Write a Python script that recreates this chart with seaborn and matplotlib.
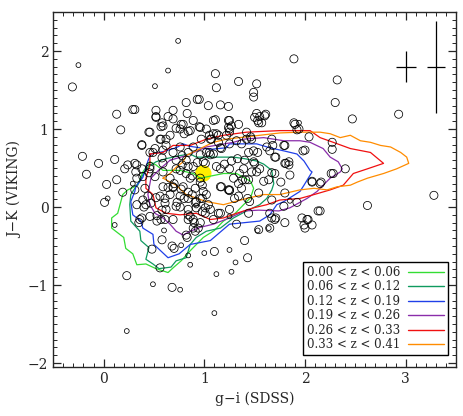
import numpy as np
import pandas as pd
import matplotlib
matplotlib.use("Agg")
import matplotlib.pyplot as plt
from matplotlib.lines import Line2D
from matplotlib.ticker import MultipleLocator
import seaborn as sns

# galaxies (g-i, J-K), big symbols
big_gi = [-0.31, 1.89, 2.32, 2.30, 2.47, 2.93, 3.28, 2.62, 1.11, 1.12, 1.34, 1.52, 1.49, 1.49,
          0.93, 0.95, 0.82, 1.04, 1.16, 1.24, 0.13, 0.17, 0.29, 0.31, 0.52, 0.52, 0.64, 0.69,
          0.83, 0.58, 0.57, 0.72, 0.77, 0.95, 1.11, 1.25, 1.27, 1.24, 1.52, 1.55, 1.53, 1.61,
          1.57, 1.89, 1.92, 0.45, 0.56, 0.62, 0.80, 0.84, 1.02, 1.05, 1.09, 1.07, 1.14, 1.22,
          1.25, 0.38, 0.62, -0.21, -0.05, -0.17, 0.11, 0.13, 0.03, 0.01, 0.19, 0.21, 0.24,
          0.33, 0.32, 0.46, 0.49, 0.23, 0.68, 1.10, 1.40, 1.43, 0.58, 0.48, 0.56, 0.68, 0.70,
          1.99, 2.07, 2.02, 2.15, 2.07, 2.16, 1.98, 2.04, 1.79, 1.81, 1.84, 1.76, 1.67, 2.27,
          2.27, 2.26, 2.28, 2.40, 1.68, 1.65, 1.71, 1.71, 1.67, 1.42, 1.46, 1.49, 1.53, 1.49,
          1.52, 1.55, 1.59, 1.41, 1.29, 1.24, 1.25, 1.17, 1.30, 1.43, 1.14, 0.98, 1.01, 1.04,
          0.91, 0.96, 0.98, 0.94, 0.91, 0.82, 0.83, 0.86, 0.84, 0.80, 0.76, 0.73, 0.61, 0.61,
          0.58, 0.53, 0.53, 0.61, 0.38, 0.33, 0.42, 0.44, 0.52, 0.46, 0.45, 0.58, 0.69, 0.78,
          0.84, 0.96, 0.93, 0.99, 0.72, 0.78, 0.84, 0.66, 0.69, 0.77, 0.84, 0.88, 0.96, 0.98,
          1.05, 1.06, 1.14, 1.16, 1.27, 1.35, 1.38, 1.16, 1.92, 1.79, 1.37, 0.35, 0.40, 0.70,
          0.88, 1.20, 1.33, 0.64, 0.90]
big_jk = [1.54, 1.90, 1.63, 1.34, 1.13, 1.19, 0.15, 0.02, 1.71, 1.53, 1.61, 1.58, 1.47, 1.41,
          1.38, 1.38, 1.34, 1.30, 1.31, 1.29, 1.19, 0.99, 1.25, 1.25, 1.24, 1.16, 1.16, 1.24,
          1.20, 1.08, 1.03, 1.01, 1.06, 1.03, 1.12, 1.11, 1.04, 1.02, 1.20, 1.16, 1.11, 1.19,
          1.08, 1.08, 0.99, 0.96, 0.87, 0.87, 0.94, 0.97, 1.00, 0.92, 0.94, 0.87, 0.92, 0.92,
          0.96, 0.80, 0.79, 0.65, 0.56, 0.42, 0.61, 0.35, 0.29, 0.06, 0.19, 0.49, 0.54,
          0.54, 0.45, 0.70, 0.70, -0.88, -1.03, -0.57, -0.43, -0.65, -0.42, -0.54, -0.78, -0.50, -0.53,
          -0.23, -0.23, -0.16, -0.05, 0.32, 0.32, 0.72, 0.90, 0.79, 0.56, 0.58, 0.32, 0.44, 0.83,
          0.74, 0.43, 0.43, 0.49, 0.79, 0.72, 0.64, -0.14, -0.14, 0.87, 0.90, 0.72, 0.70, 0.58,
          0.45, 0.49, 0.33, 0.35, 0.37, 0.22, 0.21, 0.26, 0.11, 0.11, -0.08, -0.06, -0.01, 0.03,
          0.06, 0.11, 0.11, -0.27, -0.31, -0.36, -0.39, -0.12, -0.16, 0.11, 0.00, 0.06, 0.11, 0.05,
          -0.04, -0.18, -0.11, -0.16, -0.14, 0.03, 0.03, 0.14, 0.12, 0.49, 0.44, 0.63, 0.70, 0.66,
          0.70, 0.67, 0.57, 0.58, 0.49, 0.54, 0.52, 0.37, 0.25, 0.23, 0.19, 0.16, 0.32, 0.28,
          0.70, 0.67, 0.83, 0.76, 0.59, 0.43, 0.35, 0.49, 0.06, 0.01, 0.24, -0.20, 0.00, 0.30,
          0.40, 0.55, 0.62, 0.25, -0.20]

# crowded core of the distribution, big symbols
core_gi = [0.52, 0.59, 0.69, 0.79, 0.89, 0.96, 1.09, 1.24, 1.25, 1.12, 1.06, 0.97, 0.86, 0.76,
           0.66, 0.57, 0.46, 0.38, 0.51, 0.59, 0.76, 0.89, 1.02, 1.09, 1.17, 1.25, 1.32, 0.31,
           0.38, 0.46, 0.59, 0.72, 0.82, 0.89, 1.01, 1.12, 1.25, 0.33, 0.39, 0.51, 0.59, 0.76,
           0.82, 0.86, 0.96, 0.31, 0.41, 0.59, 0.69, 0.79, 0.91, 0.99, 1.16, 1.25, 0.39, 0.47,
           0.56, 0.66, 0.76, 0.84, 0.92, 1.02, 0.62, 0.72, 0.84, 0.92, 1.06, 1.16, 0.36, 0.46,
           0.57, 0.69, 0.84, 0.89, 1.01, 1.09, 0.89, 0.96, 1.25, 1.32,
           1.34, 1.50, 1.60, 1.54, 1.90, 1.94, 1.42, 1.47, 1.37, 1.67, 1.80, 2.00, 1.62, 1.70,
           1.44, 1.40, 1.50, 1.80, 1.84, 1.70, 1.64, 1.85, 2.07, 2.15, 1.39, 1.47, 1.34, 1.44,
           1.54, 1.80, 1.34, 1.45, 1.67, 1.44, 1.65, 1.70, 1.97, 2.03, 2.00, 2.13, 1.54, 1.65,
           1.80]
core_jk = [1.15, 1.04, 1.13, 1.06, 1.11, 1.02, 1.11, 1.11, 1.00, 0.94, 0.87, 0.87, 0.98, 1.00,
           0.92, 0.87, 0.96, 0.79, 0.75, 0.73, 0.77, 0.77, 0.70, 0.68, 0.75, 0.81, 0.85, 0.56,
           0.49, 0.52, 0.56, 0.60, 0.60, 0.52, 0.56, 0.52, 0.49, 0.37, 0.39, 0.39, 0.45, 0.47,
           0.43, 0.37, 0.37, 0.22, 0.24, 0.26, 0.26, 0.26, 0.24, 0.20, 0.26, 0.22, 0.09, 0.05,
           0.14, 0.16, 0.14, 0.11, 0.07, 0.16, -0.03, 0.01, -0.03, -0.01, -0.03, -0.08, -0.16, -0.12,
           -0.16, -0.16, -0.10, -0.16, -0.08, -0.16, -0.27, -0.20, -0.03, -0.22,
           1.06, 1.15, 1.17, 1.08, 1.06, 1.00, 0.96, 0.87, 0.81, 0.87, 0.79, 0.73, 0.77, 0.64,
           0.70, 0.60, 0.56, 0.56, 0.54, 0.43, 0.35, 0.41, 0.33, 0.30, 0.49, 0.45, 0.30, 0.35,
           0.18, 0.18, 0.14, 0.07, 0.09, -0.08, -0.08, -0.16, -0.14, -0.16, -0.27, -0.05, -0.29, -0.27,
           -0.20]

# small symbols
small_gi = [0.74, -0.25, 0.64, 0.51, 1.94, 0.04, 0.29, 0.11, 0.49, 0.76, 0.23, 1.10, 1.12,
            1.27, 1.31, 1.25, 1.00, 1.53, 1.64, 0.84, 0.86, 0.77, 2.16, 1.85, 1.25, 0.92, 0.60]
small_jk = [2.13, 1.82, 1.75, 1.55, 1.08, 0.11, 0.30, -0.23, -0.99, -1.06, -1.59, -1.36, -0.86,
            -0.83, -0.71, -0.55, -0.59, -0.30, -0.27, -0.62, -0.74, -0.49, -0.81, 0.08, -0.12,
            0.02, -0.30]

# the target
target_gi = [0.99]
target_jk = [0.43]

# density contours for the redshift bins
z_labels = ["0.00 < z < 0.06", "0.06 < z < 0.12", "0.12 < z < 0.19",
            "0.19 < z < 0.26", "0.26 < z < 0.33", "0.33 < z < 0.41"]
z_colors = ["#33dd33", "#0f9a5f", "#2040e8", "#8a2daa", "#f01010", "#ff8c00"]

c0_gi = [0.46, 0.39, 0.34, 0.24, 0.19, 0.14, 0.08, 0.08, 0.14, 0.20, 0.22, 0.29, 0.33, 0.42, 0.52,
         0.64, 0.69, 0.77, 0.86, 0.99, 1.10, 1.19, 1.30, 1.39, 1.46, 1.49, 1.46, 1.32, 1.19, 0.96,
         0.89, 0.76, 0.59, 0.52, 0.46]
c0_jk = [0.58, 0.45, 0.28, 0.22, 0.16, -0.08, -0.14, -0.27, -0.33, -0.39, -0.53, -0.60, -0.74, -0.73,
         -0.79, -0.84, -0.78, -0.69, -0.56, -0.39, -0.30, -0.18, -0.09, 0.03, 0.12, 0.24, 0.33, 0.43,
         0.43, 0.37, 0.43, 0.47, 0.47, 0.54, 0.58]
c1_gi = [0.86, 0.92, 1.12, 1.29, 1.40, 1.52, 1.59, 1.67, 1.69, 1.67, 1.62, 1.55, 1.42, 1.29, 1.16,
         1.02, 0.92, 0.86, 0.82, 0.72, 0.67, 0.55, 0.49, 0.42, 0.45, 0.37, 0.36, 0.27, 0.26, 0.27,
         0.33, 0.39, 0.44, 0.52, 0.62, 0.76, 0.86]
c1_jk = [0.68, 0.64, 0.64, 0.64, 0.62, 0.59, 0.55, 0.47, 0.30, 0.22, 0.11, 0.03, -0.05, -0.14, -0.27,
         -0.31, -0.39, -0.48, -0.65, -0.69, -0.77, -0.79, -0.73, -0.67, -0.52, -0.43, -0.31, -0.18,
         0.03, 0.16, 0.28, 0.41, 0.51, 0.58, 0.62, 0.66, 0.68]
c2_gi = [0.72, 0.79, 0.85, 1.06, 1.22, 1.25, 1.52, 1.65, 1.79, 1.92, 1.99, 2.05, 2.07, 1.99, 1.95,
         1.79, 1.72, 1.65, 1.55, 1.25, 1.06, 0.86, 0.75, 0.64, 0.50, 0.49, 0.39, 0.37, 0.29, 0.27,
         0.31, 0.32, 0.39, 0.44, 0.47, 0.59, 0.72]
c2_jk = [0.76, 0.81, 0.78, 0.74, 0.76, 0.81, 0.81, 0.76, 0.72, 0.68, 0.59, 0.47, 0.45, 0.28, 0.20,
         0.07, 0.03, -0.10, -0.18, -0.22, -0.43, -0.48, -0.60, -0.65, -0.48, -0.35, -0.27, -0.18,
         -0.10, 0.07, 0.20, 0.26, 0.38, 0.59, 0.68, 0.71, 0.76]
c3_gi = [0.66, 0.82, 1.02, 1.29, 1.39, 1.59, 1.79, 1.95, 2.05, 2.18, 2.25, 2.33, 2.37, 2.35, 2.25,
         2.18, 2.12, 2.02, 1.85, 1.74, 1.54, 1.40, 1.25, 1.09, 0.96, 0.86, 0.79, 0.72, 0.66, 0.59,
         0.51, 0.46, 0.44, 0.47, 0.56, 0.66]
c3_jk = [0.60, 0.66, 0.77, 0.83, 0.87, 0.89, 0.85, 0.85, 0.83, 0.75, 0.64, 0.58, 0.49, 0.45, 0.37,
         0.28, 0.20, 0.11, -0.01, -0.05, -0.04, -0.05, -0.14, -0.22, -0.26, -0.31, -0.36, -0.31,
         -0.22, -0.14, -0.08, 0.03, 0.16, 0.37, 0.49, 0.60]
c4_gi = [0.46, 0.59, 0.69, 0.86, 1.02, 1.19, 1.42, 1.75, 2.05, 2.15, 2.28, 2.45, 2.65, 2.78, 2.62,
         2.48, 2.38, 2.25, 2.09, 1.95, 1.75, 1.62, 1.49, 1.32, 1.19, 1.06, 0.92, 0.76, 0.62, 0.52,
         0.49, 0.42, 0.42, 0.46, 0.46]
c4_jk = [0.68, 0.70, 0.79, 0.79, 0.87, 0.92, 0.96, 0.98, 0.98, 0.89, 0.83, 0.75, 0.70, 0.56, 0.49,
         0.43, 0.28, 0.22, 0.16, 0.11, 0.09, 0.03, -0.01, -0.08, -0.14, -0.16, -0.08, -0.10, -0.08,
         -0.01, 0.16, 0.24, 0.37, 0.54, 0.68]
c5_gi = [0.59, 0.66, 0.72, 0.79, 0.82, 0.96, 1.09, 1.22, 1.35, 1.55, 1.75, 1.95, 2.15, 2.25, 2.35,
         2.45, 2.55, 2.65, 2.75, 2.85, 2.95, 3.01, 3.03, 2.91, 2.78, 2.62, 2.52, 2.45, 2.32, 2.22,
         2.09, 1.95, 1.75, 1.59, 1.42, 1.19, 1.02, 0.82, 0.72, 0.59]
c5_jk = [0.37, 0.43, 0.51, 0.58, 0.66, 0.75, 0.83, 0.87, 0.89, 0.92, 0.95, 0.96, 0.96, 0.94, 0.89,
         0.92, 0.85, 0.83, 0.79, 0.77, 0.70, 0.64, 0.56, 0.49, 0.43, 0.37, 0.32, 0.28, 0.26, 0.22,
         0.24, 0.22, 0.16, 0.16, 0.11, 0.03, 0.07, 0.16, 0.28, 0.37]

contours = [(c0_gi, c0_jk), (c1_gi, c1_jk), (c2_gi, c2_jk),
            (c3_gi, c3_jk), (c4_gi, c4_jk), (c5_gi, c5_jk)]

# typical errors, faint and bright
err_gi = [3.0, 3.3]
err_jk = [1.8, 1.8]
err_x = [0.1, 0.09]
err_y = [0.2, 0.59]

sns.set_style("ticks")
plt.rcParams["font.family"] = ["DejaVu Serif"]
plt.rcParams["font.size"] = 10

fig = plt.figure(figsize=(4.63, 4.16), dpi=100)
ax = fig.add_axes([0.115, 0.118, 0.870, 0.853])

big = pd.DataFrame({"gi": big_gi + core_gi, "jk": big_jk + core_jk})
small = pd.DataFrame({"gi": small_gi, "jk": small_jk})

sns.scatterplot(x=target_gi, y=target_jk, s=140, color="#ffee00", edgecolor="none",
                ax=ax, zorder=1)
for (cx, cy), col in zip(contours, z_colors):
    sns.lineplot(x=cx, y=cy, sort=False, estimator=None, color=col, lw=0.9, ax=ax, zorder=2)
sns.scatterplot(data=big, x="gi", y="jk", s=34, facecolors="none", edgecolors="black",
                linewidth=0.55, ax=ax, zorder=3)
sns.scatterplot(data=small, x="gi", y="jk", s=12, facecolors="none", edgecolors="black",
                linewidth=0.55, ax=ax, zorder=3)

ax.errorbar(err_gi, err_jk, xerr=err_x, yerr=err_y, fmt="none", ecolor="black",
            elinewidth=0.9, capsize=0)

ax.set_xlim(-0.5, 3.5)
ax.set_ylim(-2.05, 2.5)
ax.set_xlabel("g\u2212i (SDSS)")
ax.set_ylabel("J\u2212K (VIKING)")
ax.xaxis.set_major_locator(MultipleLocator(1))
ax.xaxis.set_minor_locator(MultipleLocator(0.1))
ax.yaxis.set_major_locator(MultipleLocator(1))
ax.yaxis.set_minor_locator(MultipleLocator(0.1))
ax.tick_params(which="both", direction="in", top=True, right=True)
ax.tick_params(which="major", length=6, width=0.9)
ax.tick_params(which="minor", length=3, width=0.7)
for sp in ax.spines.values():
    sp.set_linewidth(1.0)

handles = [Line2D([0], [0], color=c, lw=1.0) for c in z_colors]
leg = ax.legend(handles, z_labels, loc="lower right", bbox_to_anchor=(0.98, 0.033),
                borderaxespad=0, markerfirst=False, fancybox=False, framealpha=1,
                edgecolor="black", fontsize=8.5, handlelength=3.0, labelspacing=0.12,
                borderpad=0.35, handletextpad=0.7)
leg.get_frame().set_linewidth(1.0)

fig.savefig("out.png", dpi=100)
